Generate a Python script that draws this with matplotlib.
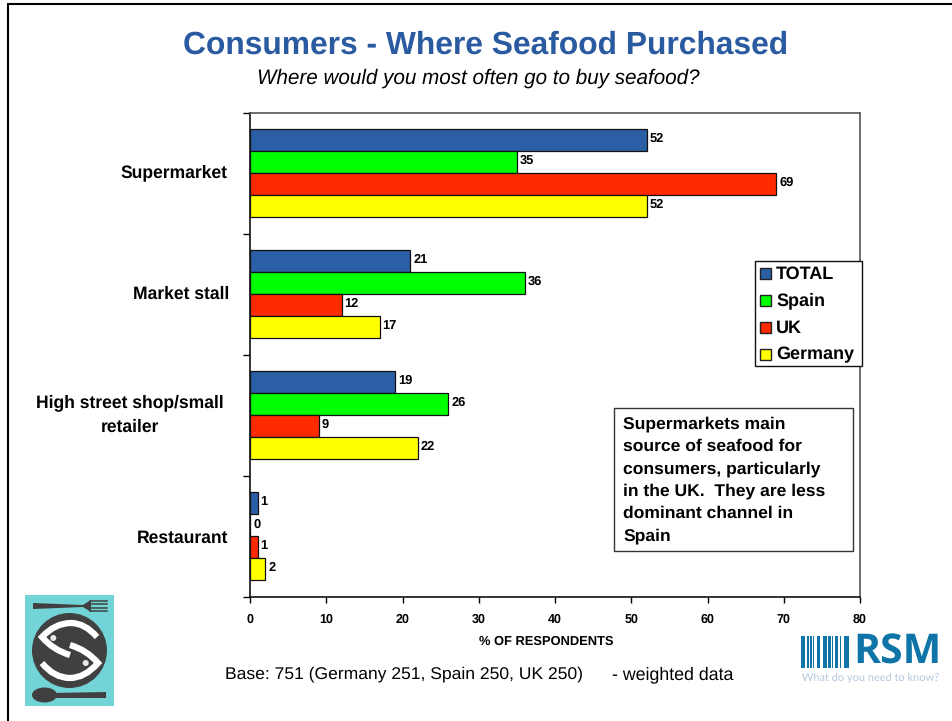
#!/usr/bin/env python
# -*- coding: utf-8 -*-

import numpy as np
import matplotlib
matplotlib.use('Agg')
import matplotlib.pyplot as plt
from matplotlib.patches import Rectangle, Circle, Ellipse, Polygon
from matplotlib.path import Path
from matplotlib.patches import PathPatch

categorias = ['Supermarket', 'Market stall', 'High street shop/small\nretailer', 'Restaurant']
paises = ['TOTAL', 'Spain', 'UK', 'Germany']
total = [52, 21, 19, 1]
spain = [35, 36, 26, 0]
uk = [69, 12, 9, 1]
germany = [52, 17, 22, 2]
colores = ['#2a5fa5', '#00ff00', '#ff2a00', '#ffff00']
x_ticks = [0, 10, 20, 30, 40, 50, 60, 70, 80]

W, H = 952, 721
plt.rcParams['font.family'] = ['Liberation Sans', 'DejaVu Sans']
plt.rcParams['text.hinting'] = 'none'
plt.rcParams['text.hinting_factor'] = 8

fig = plt.figure(figsize=(W/100., H/100.), dpi=100)

def caja(x0, y0, x1, y1):
    # pixeles de la imagen (y hacia abajo) a fraccion de figura
    return [x0/W, 1-y1/H, (x1-x0)/W, (y1-y0)/H]

# fondo de pixeles para todo lo que no es dato
bg = fig.add_axes([0, 0, 1, 1])
bg.set_xlim(0, W)
bg.set_ylim(H, 0)
bg.axis('off')
bg.plot([8, 8], [3, H], color='black', lw=1.5, solid_capstyle='butt')
bg.plot([7, W], [4, 4], color='black', lw=1.5, solid_capstyle='butt')

bg.text(486, 45, 'Consumers - Where Seafood Purchased', color='#2a5a9f', fontsize=22.85,
        fontweight='bold', ha='center', va='center')
bg.text(478.5, 78, 'Where would you most often go to buy seafood?', fontsize=14.85,
        style='italic', ha='center', va='center')
bg.text(546, 642, '% OF RESPONDENTS', fontsize=9.3, fontweight='bold', ha='center', va='center')
bg.text(225, 674.5, 'Base: 751 (Germany 251, Spain 250, UK 250)', fontsize=12.6, ha='left', va='center')
bg.text(612, 674.5, '- weighted data', fontsize=12.8, ha='left', va='center')

# logo pescado
gris = '#404040'
bg.add_patch(Rectangle((25, 595), 89, 111, color='#72d4d6', lw=0))
bg.add_patch(Polygon([(33, 603), (83, 605), (91, 600), (91, 612), (83, 607), (33, 609)], color=gris, lw=0))
for yy in [600.7, 604, 607.5, 611]:
    bg.plot([90, 107], [yy, yy], color=gris, lw=1.1)
bg.add_patch(Circle((69.5, 650.5), 37.5, color=gris, lw=0))
bg.add_patch(PathPatch(Path([(97, 637), (85, 623), (71, 623), (55, 623), (42, 637), (53, 650),
                             (70, 655)], [1, 3, 3, 3, 3, 3, 3]),
                       fc='none', ec='white', lw=4.5, joinstyle='miter'))
bg.add_patch(PathPatch(Path([(70, 645), (87, 650), (98, 663), (85, 678), (70, 678), (54, 678),
                             (42, 663)], [1, 3, 3, 3, 3, 3, 3]),
                       fc='none', ec='white', lw=4.5, joinstyle='miter'))
bg.add_patch(Circle((53.3, 638), 3, color='#e8e8e8', lw=0))
bg.add_patch(Circle((85.7, 663), 3, color='#e8e8e8', lw=0))
bg.add_patch(Ellipse((44.5, 695), 25, 15, color=gris, lw=0))
bg.add_patch(Polygon([(52, 693), (106, 692), (106, 698), (52, 698)], color=gris, lw=0))

# logo RSM
azul = '#0f75a8'
barras = [(801, 3.5), (807, 1.5), (810, 1.5), (812.5, 1.5), (817, 3), (823, 4), (828, 2.5),
          (832, 1.2), (835, 2.5), (840, 1.2), (844, 5)]
for bx, bw in barras:
    bg.add_patch(Rectangle((bx, 636), bw, 32, color=azul, lw=0))
bg.text(897, 653, 'RSM', color=azul, fontsize=29.5, fontweight='bold', ha='center', va='center',
        family='Open Sans')
bg.text(870.5, 678, 'What do you need to know?', color='#b4c8de', fontsize=7.9, ha='center', va='center',
        family='Lato')

ax = fig.add_axes(caja(250, 112.5, 860, 597))
y = np.arange(len(categorias))
alto = 0.1818
series = [total, spain, uk, germany]
for i in range(4):
    pos = y + (i-1.5)*alto
    ax.barh(pos, series[i], height=alto, color=colores[i], edgecolor='#111111', lw=0.9,
            label=paises[i])
    for p, v in zip(pos, series[i]):
        ax.annotate(str(v), (v, p), xytext=(2.2, 1), textcoords='offset points', fontsize=9.3,
                    fontweight='bold', va='center', ha='left')

ax.set_xlim(0, 80)
ax.set_ylim(3.5, -0.5)
ax.set_xticks(x_ticks)
ax.set_yticks([-0.5, 0.5, 1.5, 2.5, 3.5])
ax.set_yticklabels([])
ax.tick_params(axis='x', length=4.5, width=1, direction='out', labelsize=9, pad=7)
ax.tick_params(axis='y', length=5, width=1, direction='out')
for lab in ax.get_xticklabels():
    lab.set_fontweight('bold')
for s in ax.spines.values():
    s.set_linewidth(1.2)
    s.set_color('#111111')
ax.spines['top'].set_color('#555555')
ax.spines['right'].set_color('#555555')

# etiquetas no van alineadas en el original
desp_x = [-16, -15, -19, -16]
desp_y = [0, 0, 0, -1.5]
for c, yy, dx, dy in zip(categorias, y, desp_x, desp_y):
    ax.annotate(c, (0, yy), xytext=(dx, dy), textcoords='offset points', ha='right', va='center',
                fontsize=12.65, fontweight='bold', multialignment='center', linespacing=1.6)

# leyenda
bg.set_zorder(0)
ax.set_zorder(1)
ley = fig.add_axes([0, 0, 1, 1], zorder=2)
ley.set_xlim(0, W)
ley.set_ylim(H, 0)
ley.axis('off')
ley.add_patch(Rectangle((754.5, 260.5), 107, 105, fc='white', ec='#111111', lw=1))
for i, nombre in enumerate(paises):
    yy = 273.5 + i*27
    ley.add_patch(Rectangle((759.5, yy-5.5), 11, 11, fc=colores[i], ec='#222222', lw=1))
    ley.text(776, yy+0.5, nombre, fontsize=13, fontweight='bold', ha='left', va='center')

ley.add_patch(Rectangle((613.5, 408), 239, 143, fc='white', ec='#333333', lw=1))
nota = ['Supermarkets main', 'source of seafood for', 'consumers, particularly',
        'in the UK.  They are less', 'dominant channel in', 'Spain']
for i, t in enumerate(nota):
    ley.text(623, 424.5 + i*22.3, t, fontsize=12.6, fontweight='bold', ha='left', va='center')

plt.savefig('out.png', dpi=100)
